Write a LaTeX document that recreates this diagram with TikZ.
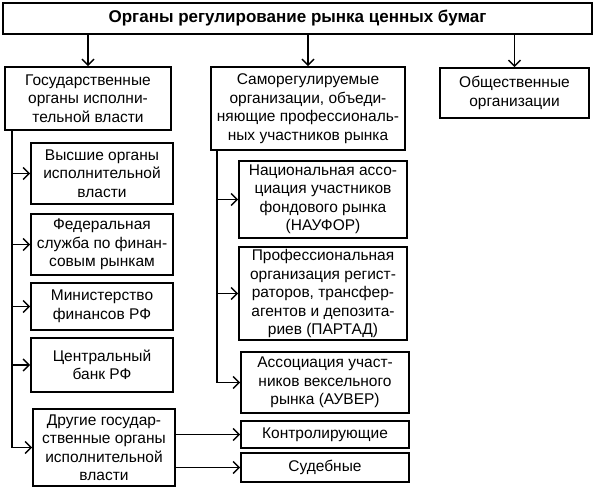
\documentclass[tikz,border=0pt]{standalone}
\usepackage{fontspec}
\setmainfont{Liberation Sans}
\usetikzlibrary{arrows.meta}
\begin{document}
\begin{tikzpicture}[x=1pt,y=-1pt,
	box/.style={draw,line width=1.6pt,align=center,inner sep=0pt,font=\fontsize{15.5}{18.5}\selectfont},
	arr/.style={line width=1.5pt,-{Straight Barb[length=6pt,width=12pt,line width=1.5pt]}}]
	\useasboundingbox (0,0) rectangle (595,487);
	%top level
	\node[box,minimum width=589pt,minimum height=31pt,font=\bfseries\fontsize{17}{20}\selectfont] (top) at (297.5,18.5) {Органы регулирование рынка ценных бумаг};
	\node[box,minimum width=166pt,minimum height=63pt] (gos) at (88,98.5) {Государственные\\органы исполни-\\тельной власти};
	\node[box,minimum width=194pt,minimum height=83pt] (samo) at (308,108.5) {Саморегулируемые\\организации, объеди-\\няющие профессиональ-\\ных участников рынка};
	\node[box,minimum width=149pt,minimum height=50pt] (obsh) at (514.5,93) {Общественные\\организации};
	\draw[arr] (top.south -| gos.north) -- (gos.north);
	\draw[arr] (top.south -| samo.north) -- (samo.north);
	\draw[arr] (top.south -| obsh.north) -- (obsh.north);
	%state bodies
	\node[box,minimum width=142pt,minimum height=61pt] (vys) at (102,173.5) {Высшие органы\\исполнительной\\власти};
	\node[box,minimum width=142pt,minimum height=61pt] (fed) at (102,244.5) {Федеральная\\служба по финан-\\совым рынкам};
	\node[box,minimum width=142pt,minimum height=47pt] (minf) at (102,306.5) {Министерство\\финансов РФ};
	\node[box,minimum width=142pt,minimum height=54pt] (cb) at (102,365) {Центральный\\банк РФ};
	\node[box,minimum width=142pt,minimum height=77pt] (drug) at (104,447.5) {Другие государ-\\ственные органы\\исполнительной\\власти};
	\coordinate (lsp) at (12,130);
	\draw[arr] (lsp) |- (drug.west);
	\foreach \b in {vys,fed,minf,cb}
		\draw[arr] (lsp |- \b.west) -- (\b.west);
	%self-regulating
	\node[box,minimum width=168pt,minimum height=77pt] (nauf) at (323,199.5) {Национальная ассо-\\циация участников\\фондового рынка\\(НАУФОР)};
	\node[box,minimum width=168pt,minimum height=93pt] (part) at (323,293.5) {Профессиональная\\организация регист-\\раторов, трансфер-\\агентов и депозита-\\риев (ПАРТАД)};
	\node[box,minimum width=168pt,minimum height=61pt] (auver) at (325,382.5) {Ассоциация участ-\\ников вексельного\\рынка (АУВЕР)};
	\coordinate (msp) at (217,150);
	\draw[arr] (msp) |- (auver.west);
	\foreach \b in {nauf,part}
		\draw[arr] (msp |- \b.west) -- (\b.west);
	%other
	\node[box,minimum width=168pt,minimum height=27pt] (kontr) at (325,434.5) {Контролирующие};
	\node[box,minimum width=168pt,minimum height=29pt] (sud) at (325,467.5) {Судебные};
	\draw[arr] (drug.east |- kontr.west) -- (kontr.west);
	\draw[arr] (drug.east |- sud.west) -- (sud.west);
\end{tikzpicture}
\end{document}
